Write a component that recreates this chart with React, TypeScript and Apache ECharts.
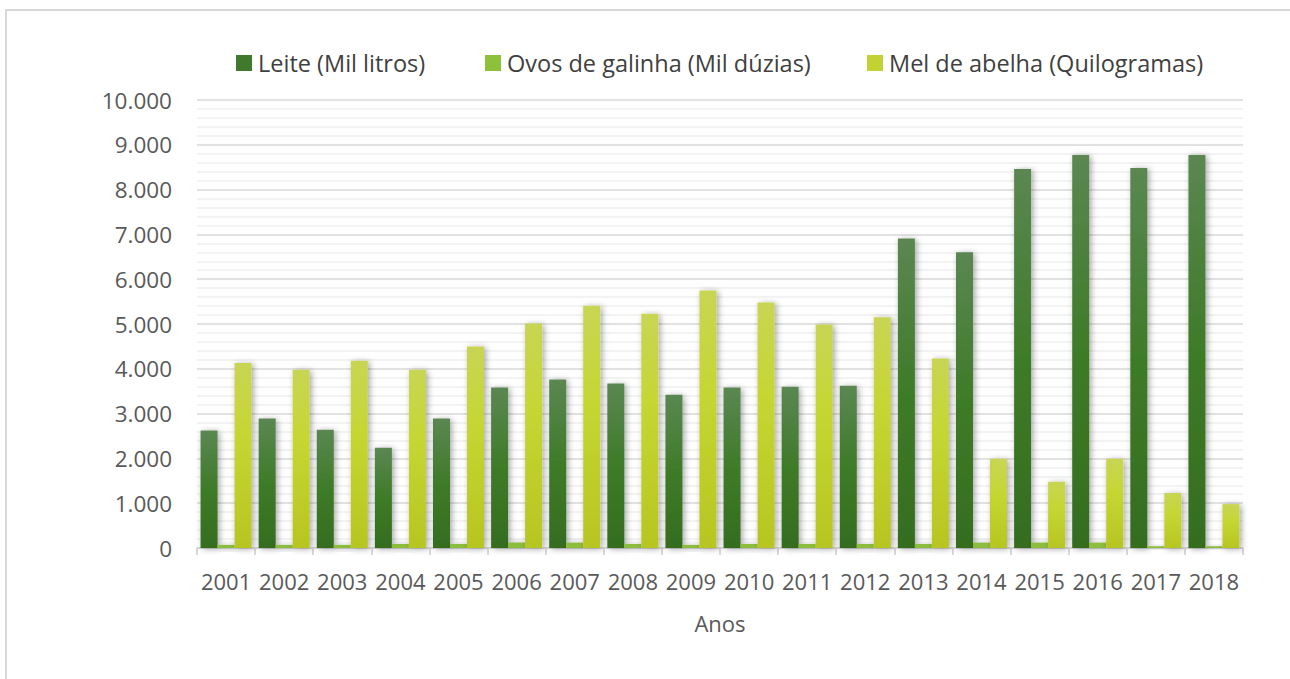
import React, { useEffect, useRef } from "react";
import * as echarts from "echarts";

const years = ["2001","2002","2003","2004","2005","2006","2007","2008","2009","2010","2011","2012","2013","2014","2015","2016","2017","2018"];
const leite = [2620, 2890, 2640, 2240, 2890, 3580, 3760, 3670, 3420, 3580, 3600, 3620, 6910, 6600, 8460, 8770, 8480, 8770];
const ovos = [70, 70, 70, 90, 90, 120, 120, 90, 70, 90, 90, 90, 90, 120, 120, 120, 40, 40];
const mel = [4130, 3980, 4180, 3980, 4500, 5010, 5410, 5230, 5750, 5480, 4990, 5150, 4230, 1990, 1480, 1990, 1230, 980];
const seriesNames = ["Leite (Mil litros)", "Ovos de galinha (Mil dúzias)", "Mel de abelha (Quilogramas)"];

const FONT = "'Open Sans', sans-serif";

export default function App() {
  const ref = useRef<HTMLDivElement>(null);
  useEffect(() => {
    if (!ref.current) return;
    const chart = echarts.init(ref.current, undefined, { renderer: "svg" });
    const shadow = {
      shadowBlur: 6,
      shadowColor: "rgba(0,0,0,0.35)",
      shadowOffsetX: 2,
      shadowOffsetY: 1,
    };
    const leiteColor = new echarts.graphic.LinearGradient(0, 0, 0, 1, [
      { offset: 0, color: "#5b8752" },
      { offset: 0.5, color: "#3e7b28" },
      { offset: 1, color: "#356d1f" },
    ]);
    const ovosColor = "#8dbd3c";
    const melColor = new echarts.graphic.LinearGradient(0, 0, 0, 1, [
      { offset: 0, color: "#c8d554" },
      { offset: 0.4, color: "#c5d632" },
      { offset: 1, color: "#b7c521" },
    ]);
    const legendColors = ["#3f7a2c", "#8dc13c", "#c3d233"];
    const legendLefts = [231, 480, 862];
    const legends = seriesNames.map((n, i) => ({
      left: legendLefts[i],
      top: 46,
      itemWidth: 16,
      itemHeight: 16,
      itemGap: 0,
      icon: "rect",
      itemStyle: {
        color: legendColors[i],
        shadowBlur: 0,
        shadowOffsetX: 0,
        shadowOffsetY: 0,
        shadowColor: "rgba(0,0,0,0)",
        borderWidth: 0,
      },
      textStyle: { fontSize: 23.5, color: "#404040", fontFamily: FONT, padding: [0, 0, 0, 1] },
      data: [n],
    }));
    chart.setOption({
      animation: false,
      textStyle: { fontFamily: FONT },
      graphic: [
        {
          type: "rect",
          shape: { x: 6, y: 10, width: 1300, height: 700 },
          style: { fill: "none", stroke: "#d9d9d9", lineWidth: 2 },
          silent: true,
        },
      ],
      legend: legends,
      grid: { left: 197, right: 47, top: 100, bottom: 131, containLabel: false },
      xAxis: {
        type: "category",
        data: years,
        name: "Anos",
        nameLocation: "middle",
        nameGap: 64,
        nameTextStyle: { fontSize: 22, color: "#595959", fontFamily: FONT },
        axisLine: { show: true, lineStyle: { color: "#d9d9d9", width: 2 } },
        axisTick: { show: true, alignWithLabel: false, length: 7, lineStyle: { color: "#d9d9d9", width: 2 } },
        axisLabel: { fontSize: 22, color: "#595959", margin: 22, fontFamily: FONT, interval: 0 },
        splitLine: { show: false },
      },
      yAxis: {
        type: "value",
        min: 0,
        max: 10000,
        interval: 1000,
        axisLine: { show: false },
        axisTick: { show: false },
        axisLabel: {
          fontSize: 22.5,
          color: "#595959",
          margin: 25,
          fontFamily: FONT,
          formatter: (v: number) => v.toString().replace(/\B(?=(\d{3})+(?!\d))/g, "."),
        },
        splitLine: { show: true, lineStyle: { color: "#d9d9d9", width: 1.5 } },
        minorTick: { show: false, splitNumber: 5 },
        minorSplitLine: { show: true, lineStyle: { color: "#efefef", width: 1.5 } },
      },
      series: [
        {
          name: seriesNames[0],
          type: "bar",
          data: leite,
          barWidth: 17,
          barGap: "0%",
          barCategoryGap: "12%",
          itemStyle: { color: leiteColor, ...shadow },
        },
        {
          name: seriesNames[1],
          type: "bar",
          data: ovos,
          barWidth: 17,
          barGap: "0%",
          itemStyle: { color: ovosColor, ...shadow },
        },
        {
          name: seriesNames[2],
          type: "bar",
          data: mel,
          barWidth: 17,
          barGap: "0%",
          itemStyle: { color: melColor, ...shadow },
        },
      ],
    });
    return () => chart.dispose();
  }, []);
  return (
    <div
      ref={ref}
      style={{ position: "absolute", left: 0, top: 0, width: 1290, height: 679, background: "#ffffff" }}
    />
  );
}
